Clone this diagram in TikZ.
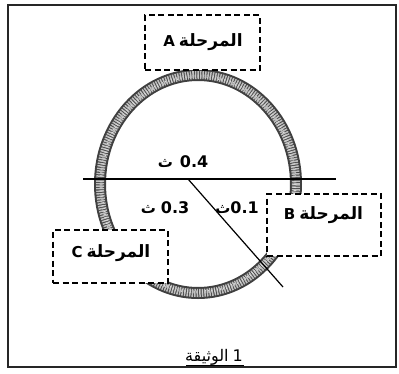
\documentclass[tikz,border=0pt]{standalone}
\usepackage{fontspec}
\setmainfont{DejaVu Sans}
\newfontfamily\arabicfont[Script=Arabic]{DejaVu Sans}
\TeXXeTstate=1
\newcommand{\stagetxt}[1]{#1\hspace{4pt}\hbox{\arabicfont\bfseries\fontsize{17}{17}\selectfont\beginR المرحلة\endR}}
\newcommand{\thaw}{\hbox{\arabicfont\bfseries\fontsize{15}{15}\selectfont ث}}
\begin{document}
\begin{tikzpicture}[x=1pt,y=-1pt,
  stagebox/.style={draw=black,line width=1.8pt,dash pattern=on 6pt off 3.5pt,fill=white,rectangle},
  num/.style={font=\bfseries\fontsize{16}{16}\selectfont,inner sep=0pt,anchor=base},
  latin/.style={font=\bfseries\fontsize{15}{15}\selectfont,inner sep=0pt,anchor=base}]
\useasboundingbox (0,0) rectangle (399,373);
% outer frame
\draw[line width=1.4pt,black!85] (8,5) rectangle (396,367);
% ring
\coordinate (c) at (198,184);
\draw[line width=12pt,black!75] (c) ellipse [x radius=98,y radius=109];
\draw[line width=8pt,gray!50,dash pattern=on 1.5pt off 1pt] (c) ellipse [x radius=98,y radius=109];
\draw[line width=3pt,gray!30,dash pattern=on 0.8pt off 2.2pt] (c) ellipse [x radius=97,y radius=108];
% lines
\coordinate (h1) at (83,179);
\coordinate (h2) at (336,179);
\coordinate (d1) at (188,179);
\coordinate (d2) at (283,287);
\draw[line width=1.4pt] (h1) -- (h2);
\draw[line width=1.2pt] (d1) -- (d2);
% boxes
\node[stagebox,minimum width=115pt,minimum height=55pt] (A) at (202.5,42.5) {};
\node[stagebox,minimum width=114pt,minimum height=62pt] (B) at (324,225) {};
\node[stagebox,minimum width=115pt,minimum height=53pt] (C) at (110.5,256.5) {};
\node[latin] (tA) at (203,46) {\stagetxt{A}};
\node[latin] (tB) at (323.5,219) {\stagetxt{B}};
\node[latin] (tC) at (111,257) {\stagetxt{C}};
% labels
\node[num] (l4) at (183,167) {\thaw\hspace{7pt}0.4};
\node[num] (l3) at (165,213) {\thaw\hspace{5pt}0.3};
\node[num] (l1) at (237,213) {\thaw 0.1};
% caption
\node[inner sep=0pt,anchor=base,font=\fontsize{16}{16}\selectfont] (cap) at (214,361) {\hbox{\arabicfont الوثيقة}\hspace{4pt}1};
\coordinate (u1) at (186,365);
\coordinate (u2) at (244,365);
\draw[line width=1pt] (u1) -- (u2);
\end{tikzpicture}
\end{document}
